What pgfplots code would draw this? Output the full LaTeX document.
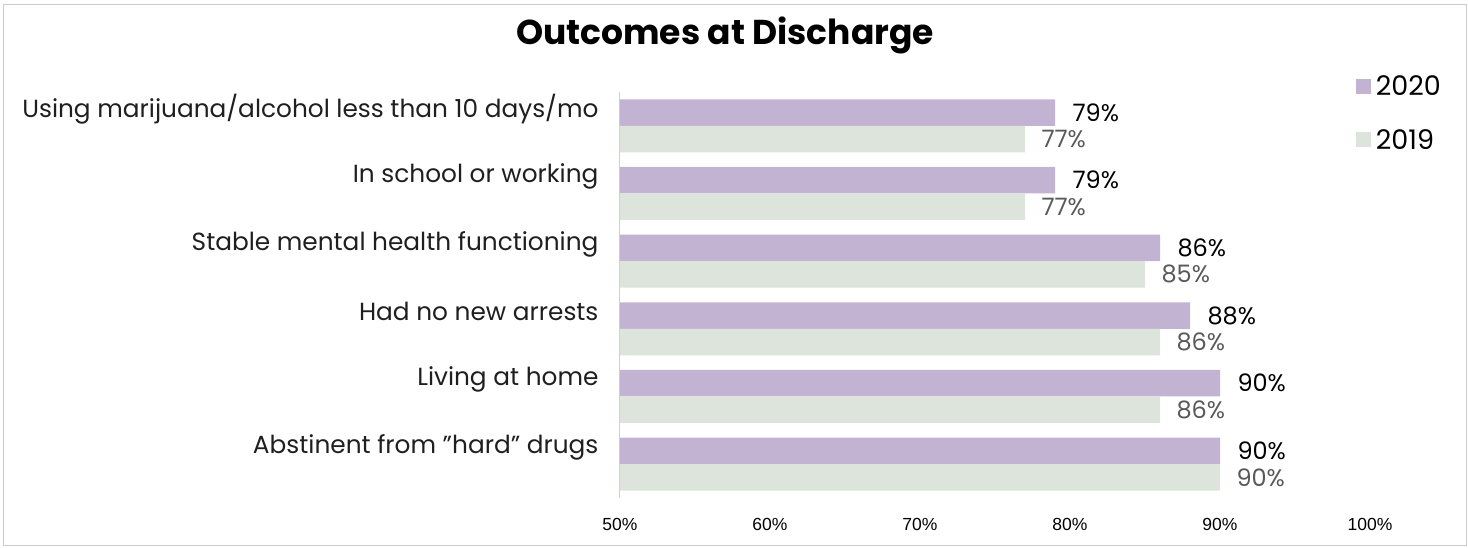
\documentclass[border=0pt]{standalone}
\usepackage{pgfplots}
\pgfplotsset{compat=1.18}
\usepackage{fontspec}
\setmainfont{Poppins}
\newfontfamily\tickfont{Liberation Sans}
\definecolor{c2020}{HTML}{C3B3D3}
\definecolor{c2019}{HTML}{DDE4DC}
\definecolor{lab2019}{HTML}{595959}
\begin{document}
\begin{tikzpicture}[x=1pt,y=1pt]
\path[use as bounding box] (0,0) rectangle (1468,548);
\draw[black!20, line width=1pt] (3,2) rectangle (1466,543);
\node[font=\fontsize{34.5}{40}\selectfont\bfseries] at (725,513) {Outcomes at Discharge};
\begin{axis}[
  at={(620pt,50pt)}, anchor=south west,
  scale only axis, width=750pt, height=406pt,
  xmin=50, xmax=100, ymin=-0.5, ymax=5.5,
  xbar, bar width=26.5pt,
  axis lines*=left,
  axis line style={-},
  x axis line style={draw=none},
  y axis line style={black!18, line width=1pt},
  major tick length=0pt,
  /pgf/number format/assume math mode=true,
  xtick={50,60,70,80,90,100},
  xticklabel={\pgfmathprintnumber{\tick}\%},
  xticklabel style={font=\tickfont\fontsize{17.5}{20}\selectfont, yshift=-17pt},
  ytick={0,1,2,3,4,5},
  yticklabels={Abstinent from "hard" drugs, Living at home, Had no new arrests, Stable mental health functioning, In school or working, Using marijuana/alcohol less than 10 days/mo},
  yticklabel style={font=\fontsize{24.8}{28}\selectfont, text=black!88, xshift=-18pt, yshift=17pt},
  legend style={draw=none, fill=none, at={(axis description cs:0.981,1.045)}, anchor=north west, font=\fontsize{27}{30}\selectfont, row sep=28pt, inner sep=0pt, legend cell align=left},
  legend image code/.code={\fill[#1] (0pt,-7.5pt) rectangle (15pt,7.5pt); \path (18pt,0pt);},
  nodes near coords={\pgfmathprintnumber{\pgfplotspointmeta}\%},
  nodes near coords align={horizontal},
]
\addplot[fill=c2020, draw=none, bar shift=13.25pt,
  nodes near coords style={anchor=west, xshift=14pt, font=\fontsize{24}{28}\selectfont, text=black}]
  coordinates {(90,0) (90,1) (88,2) (86,3) (79,4) (79,5)};
\addplot[fill=c2019, draw=none, bar shift=-13.25pt,
  nodes near coords style={anchor=west, xshift=13pt, font=\fontsize{24}{28}\selectfont, text=lab2019}]
  coordinates {(90,0) (86,1) (86,2) (85,3) (77,4) (77,5)};
\legend{2020, 2019}
\end{axis}
\end{tikzpicture}
\end{document}
